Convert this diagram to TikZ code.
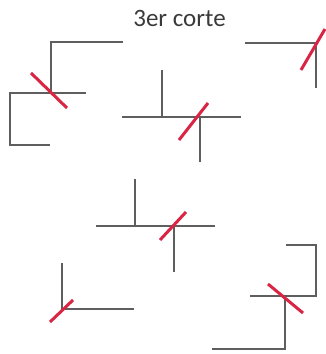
\documentclass[tikz,border=0pt]{standalone}
\usepackage{fontspec}
\setmainfont{Carlito}
\usepackage{xcolor}
\usepackage{tikz}
\usetikzlibrary{calc}
\definecolor{BarGrey}{HTML}{5E5E5E}
\definecolor{CutRed}{HTML}{D92443}
\definecolor{TitleInk}{HTML}{3A3A3A}

\begin{document}
\begin{tikzpicture}[x=1pt,y=-1pt]
  \path[use as bounding box] (0,0) rectangle (326,354);
  \tikzset{
    ccBar/.style={draw=BarGrey, line width=2pt, line cap=butt},
    ccCut/.style={draw=CutRed, line width=3pt, line cap=butt},
    ccTitle/.style={font=\fontsize{25}{28}\selectfont, text=TitleInk, inner sep=0pt}
  }

  \node[ccTitle] (title) at (179.5,18) {3er corte};

  % junctions where the cuts go
  \coordinate (jA) at (51,93);
  \coordinate (jB) at (200,117);
  \coordinate (jR) at (316,43);
  \coordinate (jC) at (174,226);
  \coordinate (jD) at (62,309);
  \coordinate (jE) at (285,296);

  % bars
  \draw[ccBar] (123,42) -| (jA);
  \draw[ccBar] (86,93) -| (10,145) -- (50,145);
  \draw[ccBar] (245,43) -| (316,88);
  \draw[ccBar] (162,70) -- (162,117);
  \draw[ccBar] (122,117) -- (241,117);
  \draw[ccBar] (jB) -- (200,162);
  \draw[ccBar] (135,179) -- (135,226);
  \draw[ccBar] (96,226) -- (215,226);
  \draw[ccBar] (jC) -- (174,272);
  \draw[ccBar] (62,263) |- (134,309);
  \draw[ccBar] (286,245) -| (316,296) -- (250,296);
  \draw[ccBar] (jE) |- (212,349);

  % cuts
  \draw[ccCut] ($(jA)+(-20,-20)$) -- ($(jA)+(16,15)$);
  \draw[ccCut] ($(jB)+(-21,23)$) -- ($(jB)+(8,-14)$);
  \draw[ccCut] ($(jR)+(-15,27)$) -- ($(jR)+(9,-14)$);
  \draw[ccCut] ($(jC)+(-14,14)$) -- ($(jC)+(12,-14)$);
  \draw[ccCut] ($(jD)+(-12,13)$) -- ($(jD)+(11,-9)$);
  \draw[ccCut] ($(jE)+(-17,-12)$) -- ($(jE)+(18,17)$);
\end{tikzpicture}
\end{document}
